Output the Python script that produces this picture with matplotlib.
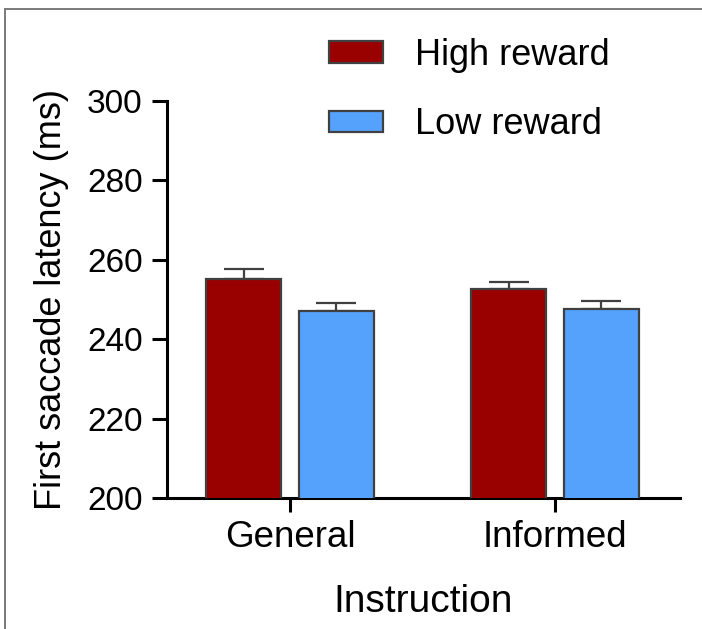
import matplotlib

matplotlib.use("Agg")
import matplotlib.pyplot as plt
import numpy as np
from matplotlib.patches import Rectangle

plt.rcParams["font.family"] = ["Liberation Sans", "DejaVu Sans"]

instructions = ["General", "Informed"]
series_names = ["High reward", "Low reward"]
latency_mean = {
    "High reward": [255.1, 252.6],
    "Low reward": [247.0, 247.7],
}
latency_sem = {
    "High reward": [2.5, 1.9],
    "Low reward": [2.2, 1.9],
}
y_ticks = [200, 220, 240, 260, 280, 300]

colors = {"High reward": "#990000", "Low reward": "#55a2fd"}
edge = "#404040"

fig = plt.figure(figsize=(7.02, 6.29), dpi=100)
W, H = 702, 629
ax = fig.add_axes([167 / W, (H - 498) / H, (680 - 167) / W, (498 - 101) / H])

x = np.arange(len(instructions))
width = 0.285
offsets = [-0.175, 0.175]
for name, off in zip(series_names, offsets):
    ax.bar(x + off, latency_mean[name], width, bottom=0, color=colors[name],
           edgecolor=edge, linewidth=1.6, label=name, zorder=3)
    ax.errorbar(x + off, latency_mean[name],
                yerr=[np.zeros(len(x)), latency_sem[name]],
                fmt="none", ecolor=edge, elinewidth=1.6, capsize=14.5,
                capthick=1.6, zorder=2)

ax.set_ylim(200, 300)
ax.set_xlim(-0.464, 1.472)
ax.set_yticks(y_ticks)
ax.set_xticks(x)
ax.set_xticklabels(instructions, fontsize=26.5)
ax.tick_params(axis="y", labelsize=24, length=10.5, width=2.2, pad=7)
ax.tick_params(axis="x", length=10, width=2.2, pad=6)
for side in ("top", "right"):
    ax.spines[side].set_visible(False)
for side in ("left", "bottom"):
    ax.spines[side].set_linewidth(2.2)

ax.set_xlabel("Instruction", fontsize=28, labelpad=21)
ax.set_ylabel("First saccade latency (ms)", fontsize=26, labelpad=13)

ax.legend(loc="upper left", bbox_to_anchor=(311 / W, 1 - 20 / H),
          bbox_transform=fig.transFigure, frameon=False, fontsize=26,
          handlelength=1.5, handleheight=0.55, handletextpad=0.88,
          labelspacing=0.95, borderpad=0)

# thin grey frame around the panel
fig.patches.append(Rectangle((4.5 / W, -0.05), 1.2, 1 - 9 / H + 0.05,
                             transform=fig.transFigure, fill=False,
                             edgecolor="#7a7a7a", linewidth=1.4))

fig.savefig("out.png", dpi=100)
